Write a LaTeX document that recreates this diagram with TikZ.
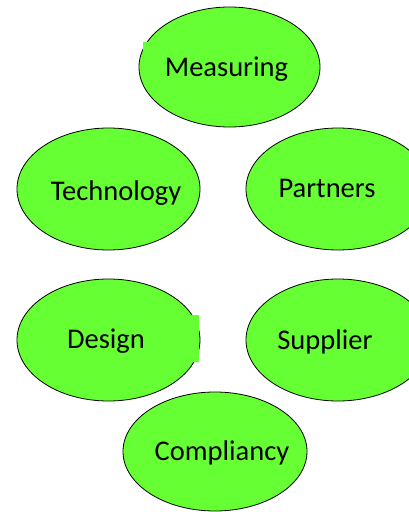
\documentclass[tikz,border=0pt]{standalone}
\usepackage{fontspec}
\setmainfont{Carlito}
\usetikzlibrary{
	shapes.geometric
}
\definecolor{leaf}{HTML}{66FF33}

\begin{document}
\begin{tikzpicture}[
	x = 1pt, y = -1pt,
	bubble/.style 2 args = {
		ellipse, draw, fill=leaf, line width=0.8pt,
		minimum width=#1, minimum height=#2, inner sep=0pt
	},
	word/.style = {
		anchor=base, inner sep=0pt,
		font=\fontsize{28.5}{30}\selectfont
	}
]
	\useasboundingbox (0,0) rectangle (408,512);

	\node (measuring) [bubble={181pt}{120pt}] at (229.5,67) {};
	\node (technology) [bubble={183pt}{122pt}] at (108.5,189) {};
	\node (partners) [bubble={184pt}{122pt}] at (338,189) {};
	\node (design) [bubble={183pt}{122pt}] at (108.5,340) {};
	\node (supplier) [bubble={184pt}{122pt}] at (338,340) {};
	\node (compliancy) [bubble={184pt}{119pt}] at (215,451.5) {};

	% stray fill patches over the outlines
	\fill [leaf] (143,42) rectangle (170,70);
	\fill [leaf] (170,315) rectangle (199,362);

	\node (measuring-t) [word] at (226.5,76) {Measuring};
	\node (technology-t) [word] at (116,200) {Technology};
	\node (partners-t) [word] at (327,197) {Partners};
	\node (design-t) [word] at (106,348) {Design};
	\node (supplier-t) [word] at (325,349) {Supplier};
	\node (compliancy-t) [word] at (222,460) {Compliancy};
\end{tikzpicture}
\end{document}
